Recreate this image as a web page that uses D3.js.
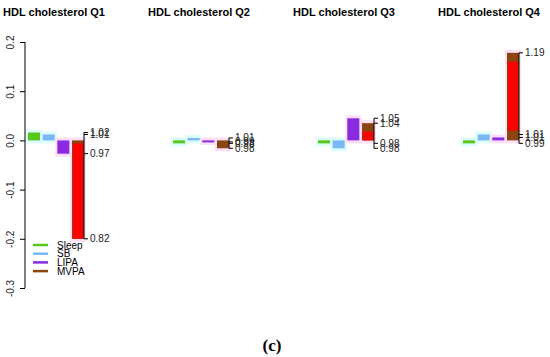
<!DOCTYPE html>
<html lang="en">
<head>
<meta charset="UTF-8">
<title>HDL cholesterol</title>
<script src="https://d3js.org/d3.v7.min.js"></script>
<style>
  body { margin: 0; background: #fff; }
  text { font-family: "Liberation Sans", Arial, sans-serif; }
</style>
</head>
<body>
<script>
  // data
  var quarters = ['HDL cholesterol Q1', 'HDL cholesterol Q2', 'HDL cholesterol Q3', 'HDL cholesterol Q4'];
  var activities = ['Sleep', 'SB', 'LIPA', 'MVPA'];
  var q1 = [0.016, 0.012, -0.027, -0.2];
  var q2 = [-0.006, 0.005, -0.003, -0.016];
  var q3 = [-0.006, -0.016, 0.045, 0.035];
  var q4 = [-0.006, 0.012, 0.006, 0.178];
  var values = [q1, q2, q3, q4];
  // ratio labels beside each panel (one per activity)
  var ratioQ1 = ['1.02', '1.01', '0.97', '0.82'];
  var ratioQ2 = ['0.98', '1.01', '0.99', '0.98'];
  var ratioQ3 = ['0.98', '0.98', '1.05', '1.04'];
  var ratioQ4 = ['0.99', '1.01', '1.01', '1.19'];
  var ratios = [ratioQ1, ratioQ2, ratioQ3, ratioQ4];
  // red inner band on the MVPA bar
  var redBand = [[-0.2, -0.006], null, [0.0, 0.018], [0.02, 0.16]];
  var yTicks = [0.2, 0.1, 0.0, -0.1, -0.2, -0.3];
  var yTickLabels = ['0.2', '0.1', '0.0', '-0.1', '-0.2', '-0.3'];

  var colors = { Sleep: '#55c81a', SB: '#77b8f5', LIPA: '#8a2be2', MVPA: '#8b4513' };
  var halos = { Sleep: '#ddfcfc', SB: '#ddfcfc', LIPA: '#fde0f6', MVPA: '#fde0f6' };

  var width = 550, height = 357;
  var svg = d3.select('body').append('svg').attr('width', width).attr('height', height);

  var y = d3.scaleLinear().domain([-0.3, 0.2]).range([288, 42]);
  var panel = d3.scaleBand().domain(quarters).range([28, 608]);
  var inner = d3.scaleBand().domain(activities).range([0, 56]).paddingInner(0.18).paddingOuter(0);

  // y axis
  var axis = svg.append('g').attr('transform', 'translate(25,0)')
    .call(d3.axisLeft(y).tickValues(yTicks).tickSize(5)
      .tickFormat(function (d, i) { return yTickLabels[i]; }));
  axis.select('.domain').attr('stroke', '#000').attr('d', 'M0,' + y(0.2) + 'V' + y(-0.3));
  axis.selectAll('.tick line').attr('stroke', '#000');
  axis.selectAll('.tick text')
    .attr('transform', 'rotate(-90)')
    .attr('x', 0)
    .attr('y', -11)
    .attr('dy', 0)
    .attr('text-anchor', 'middle')
    .attr('font-size', '10px')
    .attr('fill', '#222');

  quarters.forEach(function (q, pi) {
    var g = svg.append('g').attr('transform', 'translate(' + panel(q) + ',0)');
    var vals = values[pi];
    var data = activities.map(function (a, i) { return { act: a, v: vals[i], lab: ratios[pi][i] }; });

    // title
    svg.append('text')
      .attr('x', panel(q) + 26).attr('y', 16)
      .attr('text-anchor', 'middle')
      .attr('font-size', '11px').attr('font-weight', 'bold')
      .text(q);

    // faint halos
    g.selectAll('rect.halo').data(data).enter().append('rect')
      .attr('class', 'halo')
      .attr('x', function (d) { return inner(d.act) - 2; })
      .attr('y', function (d) { return Math.min(y(d.v), y(0)) - 3; })
      .attr('width', inner.bandwidth() + 4)
      .attr('height', function (d) { return Math.abs(y(d.v) - y(0)) + 6; })
      .attr('fill', function (d) { return halos[d.act]; });

    // bars
    g.selectAll('rect.bar').data(data).enter().append('rect')
      .attr('class', 'bar')
      .attr('x', function (d) { return inner(d.act); })
      .attr('y', function (d) { return Math.min(y(d.v), y(0)); })
      .attr('width', inner.bandwidth())
      .attr('height', function (d) { return Math.max(2, Math.abs(y(d.v) - y(0))); })
      .attr('fill', function (d) { return colors[d.act]; });

    // red band inside MVPA
    if (redBand[pi]) {
      g.append('rect')
        .attr('x', inner('MVPA') + 1)
        .attr('y', y(redBand[pi][1]))
        .attr('width', inner.bandwidth() - 2)
        .attr('height', y(redBand[pi][0]) - y(redBand[pi][1]))
        .attr('fill', '#ff0000');
    }

    // bracket with ratio labels
    var bx = 56;
    var ext = d3.extent(vals);
    g.append('line')
      .attr('x1', bx).attr('x2', bx)
      .attr('y1', y(ext[1])).attr('y2', y(ext[0]))
      .attr('stroke', '#000').attr('stroke-width', 1);
    g.selectAll('line.bt').data(data).enter().append('line')
      .attr('class', 'bt')
      .attr('x1', bx).attr('x2', bx + 4)
      .attr('y1', function (d) { return y(d.v); })
      .attr('y2', function (d) { return y(d.v); })
      .attr('stroke', '#000');
    g.selectAll('text.lab').data(data).enter().append('text')
      .attr('class', 'lab')
      .attr('x', bx + 6)
      .attr('y', function (d) { return y(d.v) + 3.5; })
      .attr('font-size', '10px')
      .attr('fill', '#222')
      .text(function (d) { return d.lab; });
  });

  // legend
  var legend = svg.append('g').attr('transform', 'translate(33,245)');
  activities.forEach(function (a, i) {
    legend.append('line')
      .attr('x1', 0).attr('x2', 15)
      .attr('y1', i * 8.7).attr('y2', i * 8.7)
      .attr('stroke', colors[a]).attr('stroke-width', 2.5);
    legend.append('text')
      .attr('x', 24).attr('y', i * 8.7 + 3.5)
      .attr('font-size', '10px')
      .text(a);
  });

  svg.append('text')
    .attr('x', 272).attr('y', 351)
    .attr('text-anchor', 'middle')
    .style('font-family', '"Liberation Serif", serif')
    .attr('font-size', '17px').attr('font-weight', 'bold')
    .text('(c)');
</script>
</body>
</html>
